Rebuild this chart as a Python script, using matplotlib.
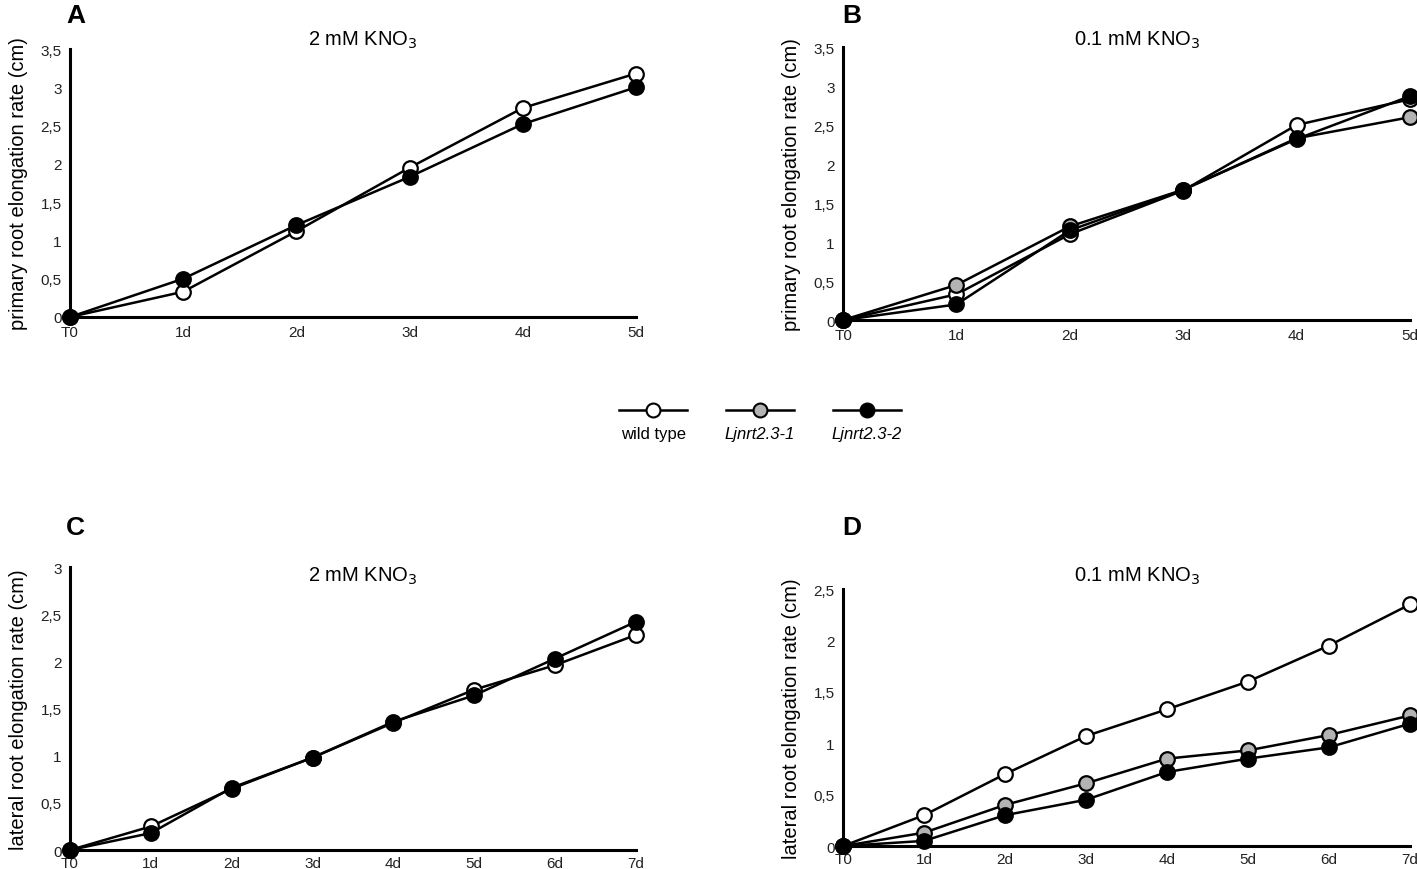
import matplotlib
matplotlib.use("Agg")
from matplotlib import pyplot as plt

plt.rcParams['font.family'] = ['Liberation Sans', 'DejaVu Sans']

# time points
days_primary = ['T0', '1d', '2d', '3d', '4d', '5d']
days_lateral = ['T0', '1d', '2d', '3d', '4d', '5d', '6d', '7d']

# A: primary root, 2 mM KNO3
a_wt = [0, 0.33, 1.12, 1.95, 2.73, 3.18]
a_m2 = [0, 0.50, 1.20, 1.83, 2.52, 3.00]

# B: primary root, 0.1 mM KNO3
b_wt = [0, 0.33, 1.10, 1.66, 2.50, 2.83]
b_m1 = [0, 0.45, 1.20, 1.67, 2.33, 2.60]
b_m2 = [0, 0.20, 1.15, 1.67, 2.32, 2.87]

# C: lateral root, 2 mM KNO3
c_wt = [0, 0.25, 0.65, 0.98, 1.35, 1.70, 1.96, 2.28]
c_m2 = [0, 0.18, 0.66, 0.98, 1.36, 1.64, 2.03, 2.42]

# D: lateral root, 0.1 mM KNO3
d_wt = [0, 0.30, 0.70, 1.07, 1.33, 1.60, 1.95, 2.35]
d_m1 = [0, 0.13, 0.40, 0.61, 0.85, 0.93, 1.08, 1.27]
d_m2 = [0, 0.05, 0.30, 0.45, 0.72, 0.85, 0.96, 1.19]

yticks_35 = [0, 0.5, 1, 1.5, 2, 2.5, 3, 3.5]
yticks_3 = [0, 0.5, 1, 1.5, 2, 2.5, 3]
yticks_25 = [0, 0.5, 1, 1.5, 2, 2.5]

genotypes = ['wild type', 'Ljnrt2.3-1', 'Ljnrt2.3-2']
face = {'wild type': 'white', 'Ljnrt2.3-1': '#b3b3b3', 'Ljnrt2.3-2': 'black'}

fig = plt.figure(figsize=(14.17, 8.7), dpi=100)


def setup_axes(rect, xlabels, yticks, ylabel, xpad):
    ax = fig.add_axes(rect)
    ax.set_xlim(0, len(xlabels) - 1)
    ax.set_ylim(0, yticks[-1])
    ax.set_xticks(range(len(xlabels)))
    ax.set_xticklabels(xlabels, fontsize=11, color='#222222')
    ax.set_yticks(yticks)
    ax.set_yticklabels([('%g' % v).replace('.', ',') for v in yticks],
                       fontsize=11, color='#222222')
    ax.tick_params(axis='y', length=0, pad=6)
    ax.tick_params(axis='x', length=0, pad=xpad)
    ax.spines['top'].set_visible(False)
    ax.spines['right'].set_visible(False)
    ax.spines['left'].set_linewidth(2.2)
    ax.spines['bottom'].set_linewidth(2.2)
    ax.set_ylabel(ylabel, fontsize=14.5, labelpad=9)
    return ax


def draw(ax, values, genotype):
    ax.plot(range(len(values)), values, color='black', lw=1.8, marker='o',
            ms=10.5, mfc=face[genotype], mec='black', mew=1.6, clip_on=False, zorder=3)


ax_a = setup_axes([0.0494, 0.6345, 0.3994, 0.308], days_primary, yticks_35,
                  'primary root elongation rate (cm)', 6)
draw(ax_a, a_wt, 'wild type')
draw(ax_a, a_m2, 'Ljnrt2.3-2')

ax_b = setup_axes([0.595, 0.631, 0.400, 0.3138], days_primary, yticks_35,
                  'primary root elongation rate (cm)', 6)
draw(ax_b, b_wt, 'wild type')
draw(ax_b, b_m1, 'Ljnrt2.3-1')
draw(ax_b, b_m2, 'Ljnrt2.3-2')

ax_c = setup_axes([0.0494, 0.0218, 0.3994, 0.3253], days_lateral, yticks_3,
                  'lateral root elongation rate (cm)', 4)
draw(ax_c, c_wt, 'wild type')
draw(ax_c, c_m2, 'Ljnrt2.3-2')

ax_d = setup_axes([0.595, 0.0264, 0.400, 0.2954], days_lateral, yticks_25,
                  'lateral root elongation rate (cm)', 4)
draw(ax_d, d_wt, 'wild type')
draw(ax_d, d_m1, 'Ljnrt2.3-1')
draw(ax_d, d_m2, 'Ljnrt2.3-2')

# panel titles and letters
fig.text(363 / 1417, 1 - 40 / 870, '2 mM KNO$_3$', fontsize=14.5, ha='center', va='center')
fig.text(1137 / 1417, 1 - 40 / 870, '0.1 mM KNO$_3$', fontsize=14.5, ha='center', va='center')
fig.text(363 / 1417, 1 - 576 / 870, '2 mM KNO$_3$', fontsize=14.5, ha='center', va='center')
fig.text(1137 / 1417, 1 - 576 / 870, '0.1 mM KNO$_3$', fontsize=14.5, ha='center', va='center')
for letter, (px, py) in zip('ABCD', [(66, 16), (842, 16), (66, 528), (842, 528)]):
    fig.text(px / 1417, 1 - py / 870, letter, fontsize=19, fontweight='bold',
             ha='left', va='center')

# legend: marker on a short line, name underneath
leg = fig.add_axes([600 / 1417, 1 - 450 / 870, 320 / 1417, 50 / 870])
leg.set_xlim(0, 3)
leg.set_ylim(0, 1)
leg.axis('off')
for i, g in enumerate(genotypes):
    leg.plot([i + 0.18, i + 0.82], [0.78, 0.78], color='black', lw=1.8)
    leg.plot([i + 0.5], [0.78], marker='o', ms=10, mfc=face[g], mec='black', mew=1.5)
    leg.text(i + 0.5, 0.3, g, ha='center', va='center', fontsize=12,
             style='normal' if g == 'wild type' else 'italic')

fig.savefig('out.png', dpi=100)
